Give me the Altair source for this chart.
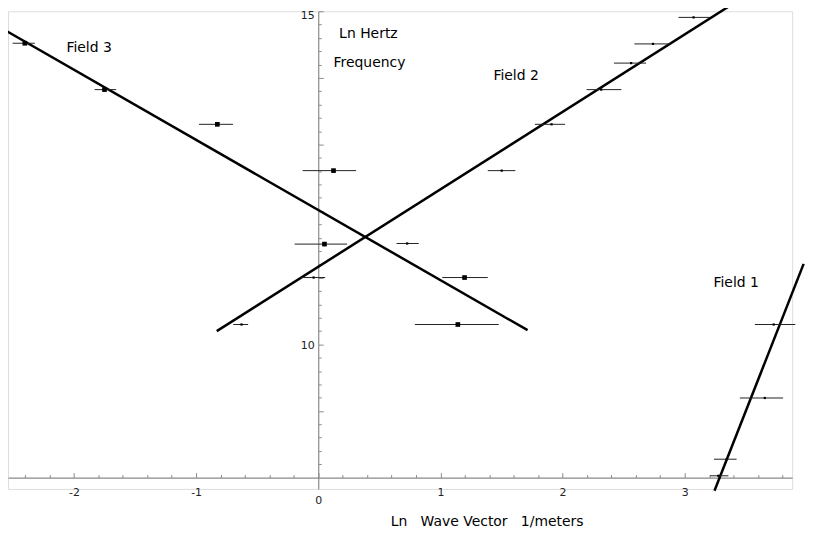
import altair as alt
import pandas as pd

# ---------------- data ----------------
# Field 1 : ln wave vector (centre, lower, upper) and ln frequency
field1_x = [3.729, 3.656, 3.344, 3.276]
field1_lo = [3.575, 3.452, 3.240, 3.208]
field1_hi = [3.906, 3.806, 3.425, 3.358]
field1_y = [10.298, 9.195, 8.276, 8.027]

# Field 2
field2_x = [3.073, 2.741, 2.562, 2.317, 1.910, 1.502, 0.728, -0.038, -0.628]
field2_lo = [2.950, 2.588, 2.421, 2.197, 1.774, 1.388, 0.641, -0.147, -0.696]
field2_hi = [3.208, 2.882, 2.684, 2.482, 2.021, 1.614, 0.823, 0.057, -0.574]
field2_y = [14.908, 14.510, 14.222, 13.824, 13.303, 12.608, 11.514, 11.003, 10.298]

# Field 3
field3_x = [-2.402, -1.750, -0.826, 0.125, 0.051, 1.198, 1.143]
field3_lo = [-2.502, -1.831, -0.976, -0.128, -0.193, 1.015, 0.791]
field3_hi = [-2.320, -1.654, -0.698, 0.310, 0.236, 1.388, 1.478]
field3_y = [14.520, 13.824, 13.303, 12.608, 11.505, 11.003, 10.298]

# fitted straight lines (end points)
fit_field = ["Field 1", "Field 1", "Field 2", "Field 2", "Field 3", "Field 3"]
fit_x = [3.244, 3.974, -0.831, 3.368, -2.579, 1.714]
fit_y = [7.802, 11.208, 10.198, 15.08, 14.732, 10.213]

# annotations
ann_text = ["Field 3", "Ln Hertz", "Frequency", "Field 2", "Field 1"]
ann_x = [-2.062, 0.171, 0.125, 1.434, 3.236]
ann_y = [14.386, 14.595, 14.158, 13.964, 10.858]

x_labels = [-2, -1, 0, 1, 2, 3]
y_labels = [10, 15]
x_ticks = [round(-2.4 + 0.2 * i, 1) for i in range(32)]
y_ticks = [round(8.2 + 0.2 * i, 1) for i in range(35)]

X_TITLE = "Ln\u00a0\u00a0\u00a0Wave Vector\u00a0\u00a0\u00a01/meters"

# ---------------- frames ----------------
def frame(name, xs, lo, hi, ys):
    return pd.DataFrame({"field": name, "x": xs, "lo": lo, "hi": hi, "y": ys})

pts3 = frame("Field 3", field3_x, field3_lo, field3_hi, field3_y)
pts12 = pd.concat([
    frame("Field 1", field1_x, field1_lo, field1_hi, field1_y),
    frame("Field 2", field2_x, field2_lo, field2_hi, field2_y),
])
pts_all = pd.concat([pts3, pts12])
fits = pd.DataFrame({"field": fit_field, "x": fit_x, "y": fit_y})
ann = pd.DataFrame({"text": ann_text, "x": ann_x, "y": ann_y})

# ---------------- layout ----------------
X_DOMAIN = [-2.54, 3.88]
Y_DOMAIN = [7.83, 15.0]
W, H = 788, 480
x0 = (0 - X_DOMAIN[0]) / (X_DOMAIN[1] - X_DOMAIN[0]) * W
yb = (Y_DOMAIN[1] - 8) / (Y_DOMAIN[1] - Y_DOMAIN[0]) * H

xs = alt.Scale(domain=X_DOMAIN, nice=False, zero=False)
ys = alt.Scale(domain=Y_DOMAIN, nice=False, zero=False)

GREY = "#8a8a8a"
FONT = "DejaVu Sans"
MAJOR = "abs(datum.value - round(datum.value)) < 0.001"

x_main = alt.Axis(
    orient="bottom", offset=-(H - yb), values=x_labels, ticks=False, grid=False,
    domainColor=GREY, domainWidth=1.2, labelFont=FONT, labelFontSize=11,
    labelColor="#222", labelFlush=False, labelOverlap=False,
    labelExpr="datum.value < 0 ? '-' + abs(datum.value) : '' + datum.value",
    labelPadding={"condition": {"test": "datum.value === 0", "value": 17}, "value": 9},
    title=X_TITLE, titleFont=FONT, titleFontSize=14, titleFontWeight="normal",
    titleColor="black", titleX=481, titleY=48, titleAlign="center",
    titleBaseline="alphabetic", titleAnchor="start",
)
y_main = alt.Axis(
    orient="left", offset=-x0, values=y_labels, ticks=False, grid=False,
    domainColor=GREY, domainWidth=1.2, labelFont=FONT, labelFontSize=11,
    labelColor="#222", labelFlush=False, labelOverlap=False, labelPadding=4,
    labelOffset={"condition": {"test": "datum.value === 15", "value": 4}, "value": 1},
    title=None,
)
x_tick_axis = alt.Axis(
    orient="top", offset=-yb, values=x_ticks, labels=False, domain=False, grid=False,
    tickColor=GREY, tickWidth=1,
    tickSize={"condition": {"test": MAJOR, "value": 5}, "value": 3},
    title=None,
)
y_tick_axis = alt.Axis(
    orient="right", offset=-(W - x0), values=y_ticks, labels=False, domain=False, grid=False,
    tickColor=GREY, tickWidth=1,
    tickSize={"condition": {"test": MAJOR, "value": 5}, "value": 3},
    title=None,
)

lines = alt.Chart(fits).mark_line(color="black", strokeWidth=2.5).encode(
    x=alt.X("x:Q", scale=xs, axis=x_main),
    y=alt.Y("y:Q", scale=ys, axis=y_main),
    detail="field:N",
)

bars = alt.Chart(pts_all).mark_rule(color="#222", strokeWidth=1).encode(
    x=alt.X("lo:Q", scale=xs, axis=x_tick_axis),
    x2="hi:Q",
    y=alt.Y("y:Q", scale=ys, axis=y_tick_axis),
)

sq3 = alt.Chart(pts3).mark_square(color="black", size=22, opacity=1).encode(
    x=alt.X("x:Q", scale=xs, axis=None),
    y=alt.Y("y:Q", scale=ys, axis=None),
)
sq12 = alt.Chart(pts12).mark_square(color="black", size=5, opacity=1).encode(
    x=alt.X("x:Q", scale=xs, axis=None),
    y=alt.Y("y:Q", scale=ys, axis=None),
)

labels = alt.Chart(ann).mark_text(
    align="left", baseline="alphabetic", font=FONT, fontSize=14, color="black"
).encode(
    x=alt.X("x:Q", scale=xs, axis=None),
    y=alt.Y("y:Q", scale=ys, axis=None),
    text="text:N",
)

chart = (
    alt.layer(lines, bars, sq3, sq12, labels)
    .resolve_axis(x="independent", y="independent")
    .properties(
        width=W, height=H,
        autosize=alt.AutoSizeParams(type="none"),
        padding={"left": 0, "top": 2, "right": 30, "bottom": 40},
    )
    .configure_view(stroke=None)
    .configure(background="white")
)

chart.save("out.html", embed_options={"renderer": "svg", "actions": False})
